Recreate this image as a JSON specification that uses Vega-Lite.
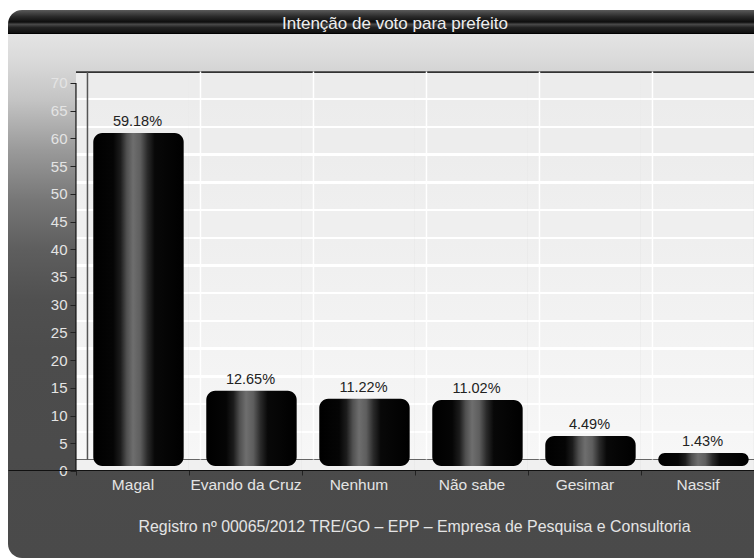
{
  "$schema": "https://vega.github.io/schema/vega-lite/v6.json",
  "width": 774,
  "height": 548,
  "autosize": {"type": "none"},
  "padding": {"left": 8, "top": 10, "right": 0, "bottom": 0},
  "background": "white",
  "view": {
    "stroke": null,
    "cornerRadius": 14,
    "fill": {
      "gradient": "linear", "x1": 0, "y1": 0, "x2": 0, "y2": 1,
      "stops": [
        {"offset": 0, "color": "#5a5a5a"},
        {"offset": 0.012, "color": "#2a2a2a"},
        {"offset": 0.022, "color": "#0d0d0d"},
        {"offset": 0.026, "color": "#4a4a4a"},
        {"offset": 0.032, "color": "#222222"},
        {"offset": 0.041, "color": "#111111"},
        {"offset": 0.043, "color": "#000000"},
        {"offset": 0.044, "color": "#e4e4e4"},
        {"offset": 0.0912, "color": "#dadada"},
        {"offset": 0.164, "color": "#c4c4c4"},
        {"offset": 0.2555, "color": "#9a9a9a"},
        {"offset": 0.3467, "color": "#777777"},
        {"offset": 0.438, "color": "#5e5e5e"},
        {"offset": 0.529, "color": "#505050"},
        {"offset": 0.62, "color": "#4c4c4c"},
        {"offset": 1, "color": "#4a4a4a"}
      ]
    }
  },
  "title": {
    "text": "Intenção de voto para prefeito",
    "color": "#eeeeee",
    "fontSize": 17,
    "font": "Liberation Sans",
    "fontWeight": "normal",
    "anchor": "middle",
    "offset": -31,
    "baseline": "middle"
  },
  "config": {
    "axisY": {
      "offset": -68,
      "domain": false,
      "grid": false,
      "ticks": true,
      "tickColor": "#222222",
      "tickSize": 6,
      "labelColor": "#e4e4e4",
      "labelFontSize": 15,
      "labelFont": "Liberation Sans",
      "labelPadding": 3
    },
    "axisX": {
      "offset": -88,
      "domain": true,
      "domainColor": "#111111",
      "grid": false,
      "ticks": true,
      "tickBand": "extent",
      "tickColor": "#222222",
      "tickSize": 5,
      "labelColor": "#e4e4e4",
      "labelFontSize": 15.5,
      "labelFont": "Liberation Sans",
      "labelPadding": 2,
      "labelAngle": 0,
      "titleColor": "#e4e4e4",
      "titleFontSize": 15.9,
      "titleFont": "Liberation Sans",
      "titleFontWeight": "normal",
      "titlePadding": 26
    }
  },
  "data": {
    "values": [
      {"c": "Magal", "v": 59.18, "label": "59.18%"},
      {"c": "Evando da Cruz", "v": 12.65, "label": "12.65%"},
      {"c": "Nenhum", "v": 11.22, "label": "11.22%"},
      {"c": "Não sabe", "v": 11.02, "label": "11.02%"},
      {"c": "Gesimar", "v": 4.49, "label": "4.49%"},
      {"c": "Nassif", "v": 1.43, "label": "1.43%"}
    ]
  },
  "encoding": {
    "x": {
      "field": "c",
      "type": "nominal",
      "sort": null,
      "scale": {"paddingInner": 0, "paddingOuter": 0.4248, "align": 0.708},
      "axis": {"title": "Registro nº 00065/2012 TRE/GO – EPP – Empresa de Pesquisa e Consultoria", "titleX": 406}
    }
  },
  "layer": [
    {
      "mark": {
        "type": "rect",
        "fill": {
          "gradient": "linear", "x1": 0, "y1": 0, "x2": 0, "y2": 1,
          "stops": [
            {"offset": 0, "color": "#333333"},
            {"offset": 0.004, "color": "#333333"},
            {"offset": 0.004, "color": "#ececec"},
            {"offset": 0.0666, "color": "#ececec"},
            {"offset": 0.0666, "color": "#ffffff"},
            {"offset": 0.0726, "color": "#ffffff"},
            {"offset": 0.0726, "color": "#ececec"},
            {"offset": 0.1359, "color": "#ededed"},
            {"offset": 0.1359, "color": "#ffffff"},
            {"offset": 0.1419, "color": "#ffffff"},
            {"offset": 0.1419, "color": "#ededed"},
            {"offset": 0.2053, "color": "#ededed"},
            {"offset": 0.2053, "color": "#ffffff"},
            {"offset": 0.2113, "color": "#ffffff"},
            {"offset": 0.2113, "color": "#ededed"},
            {"offset": 0.2747, "color": "#eeeeee"},
            {"offset": 0.2747, "color": "#ffffff"},
            {"offset": 0.2807, "color": "#ffffff"},
            {"offset": 0.2807, "color": "#eeeeee"},
            {"offset": 0.3441, "color": "#efefef"},
            {"offset": 0.3441, "color": "#ffffff"},
            {"offset": 0.3501, "color": "#ffffff"},
            {"offset": 0.3501, "color": "#efefef"},
            {"offset": 0.4135, "color": "#efefef"},
            {"offset": 0.4135, "color": "#ffffff"},
            {"offset": 0.4195, "color": "#ffffff"},
            {"offset": 0.4195, "color": "#efefef"},
            {"offset": 0.4828, "color": "#f0f0f0"},
            {"offset": 0.4828, "color": "#ffffff"},
            {"offset": 0.4888, "color": "#ffffff"},
            {"offset": 0.4888, "color": "#f0f0f0"},
            {"offset": 0.5522, "color": "#f1f1f1"},
            {"offset": 0.5522, "color": "#ffffff"},
            {"offset": 0.5582, "color": "#ffffff"},
            {"offset": 0.5582, "color": "#f1f1f1"},
            {"offset": 0.6215, "color": "#f2f2f2"},
            {"offset": 0.6215, "color": "#ffffff"},
            {"offset": 0.6275, "color": "#ffffff"},
            {"offset": 0.6275, "color": "#f2f2f2"},
            {"offset": 0.6907, "color": "#f3f3f3"},
            {"offset": 0.6907, "color": "#ffffff"},
            {"offset": 0.6967, "color": "#ffffff"},
            {"offset": 0.6967, "color": "#f3f3f3"},
            {"offset": 0.7602, "color": "#f4f4f4"},
            {"offset": 0.7602, "color": "#ffffff"},
            {"offset": 0.7662, "color": "#ffffff"},
            {"offset": 0.7662, "color": "#f4f4f4"},
            {"offset": 0.8296, "color": "#f5f5f5"},
            {"offset": 0.8296, "color": "#ffffff"},
            {"offset": 0.8356, "color": "#ffffff"},
            {"offset": 0.8356, "color": "#f5f5f5"},
            {"offset": 0.8989, "color": "#f6f6f6"},
            {"offset": 0.8989, "color": "#ffffff"},
            {"offset": 0.9049, "color": "#ffffff"},
            {"offset": 0.9049, "color": "#f6f6f6"},
            {"offset": 0.9695, "color": "#f7f7f7"},
            {"offset": 0.9695, "color": "#666666"},
            {"offset": 0.9735, "color": "#666666"},
            {"offset": 0.9735, "color": "#f0f0f0"},
            {"offset": 1, "color": "#f0f0f0"}
          ]
        }
      },
      "encoding": {
        "y": {
          "datum": 0,
          "type": "quantitative",
          "scale": {"domain": [-15.70, 83.17], "nice": false, "zero": false},
          "axis": {"values": [0, 5, 10, 15, 20, 25, 30, 35, 40, 45, 50, 55, 60, 65, 70], "title": null}
        },
        "y2": {"datum": 72.1}
      }
    },
    {
      "mark": {"type": "rule", "xOffset": 11.5, "x2Offset": 11.5, "yOffset": -11.5, "y2Offset": -11.5, "strokeWidth": 1.5},
      "encoding": {
        "x": {"field": "c", "type": "nominal", "sort": null, "bandPosition": 0},
        "y": {"datum": 0, "type": "quantitative", "axis": {"values": [0, 5, 10, 15, 20, 25, 30, 35, 40, 45, 50, 55, 60, 65, 70], "title": null}},
        "y2": {"datum": 70},
        "color": {
          "condition": {"test": "datum.c === 'Magal'", "value": "#555555"},
          "value": "#ffffff"
        }
      }
    },
    {
      "transform": [{"filter": "datum.c === 'Magal'"}],
      "mark": {"type": "rule", "color": "#111111", "strokeWidth": 1.2},
      "encoding": {
        "x": {"field": "c", "type": "nominal", "sort": null, "bandPosition": 0},
        "y": {"datum": 0, "type": "quantitative", "axis": {"values": [0, 5, 10, 15, 20, 25, 30, 35, 40, 45, 50, 55, 60, 65, 70], "title": null}},
        "y2": {"datum": 70}
      }
    },
    {
      "mark": {
        "type": "bar",
        "width": {"band": 0.8},
        "xOffset": 6,
        "yOffset": -10,
        "y2Offset": -5,
        "cornerRadius": 9,
        "fill": {
          "gradient": "linear", "x1": 0, "y1": 0, "x2": 1, "y2": 0,
          "stops": [
            {"offset": 0, "color": "#000000"},
            {"offset": 0.22, "color": "#050505"},
            {"offset": 0.3, "color": "#1c1c1c"},
            {"offset": 0.37, "color": "#505050"},
            {"offset": 0.44, "color": "#6e6e6e"},
            {"offset": 0.52, "color": "#5e5e5e"},
            {"offset": 0.6, "color": "#2a2a2a"},
            {"offset": 0.68, "color": "#080808"},
            {"offset": 1, "color": "#000000"}
          ]
        }
      },
      "encoding": {
        "y": {"field": "v", "type": "quantitative", "stack": null, "axis": {"values": [0, 5, 10, 15, 20, 25, 30, 35, 40, 45, 50, 55, 60, 65, 70], "title": null}},
        "y2": {"datum": 0}
      }
    },
    {
      "mark": {"type": "text", "baseline": "bottom", "dy": -14, "dx": 5, "fontSize": 14.5, "font": "Liberation Sans", "color": "#222222"},
      "encoding": {
        "y": {"field": "v", "type": "quantitative", "axis": {"values": [0, 5, 10, 15, 20, 25, 30, 35, 40, 45, 50, 55, 60, 65, 70], "title": null}},
        "text": {"field": "label"}
      }
    }
  ]
}
